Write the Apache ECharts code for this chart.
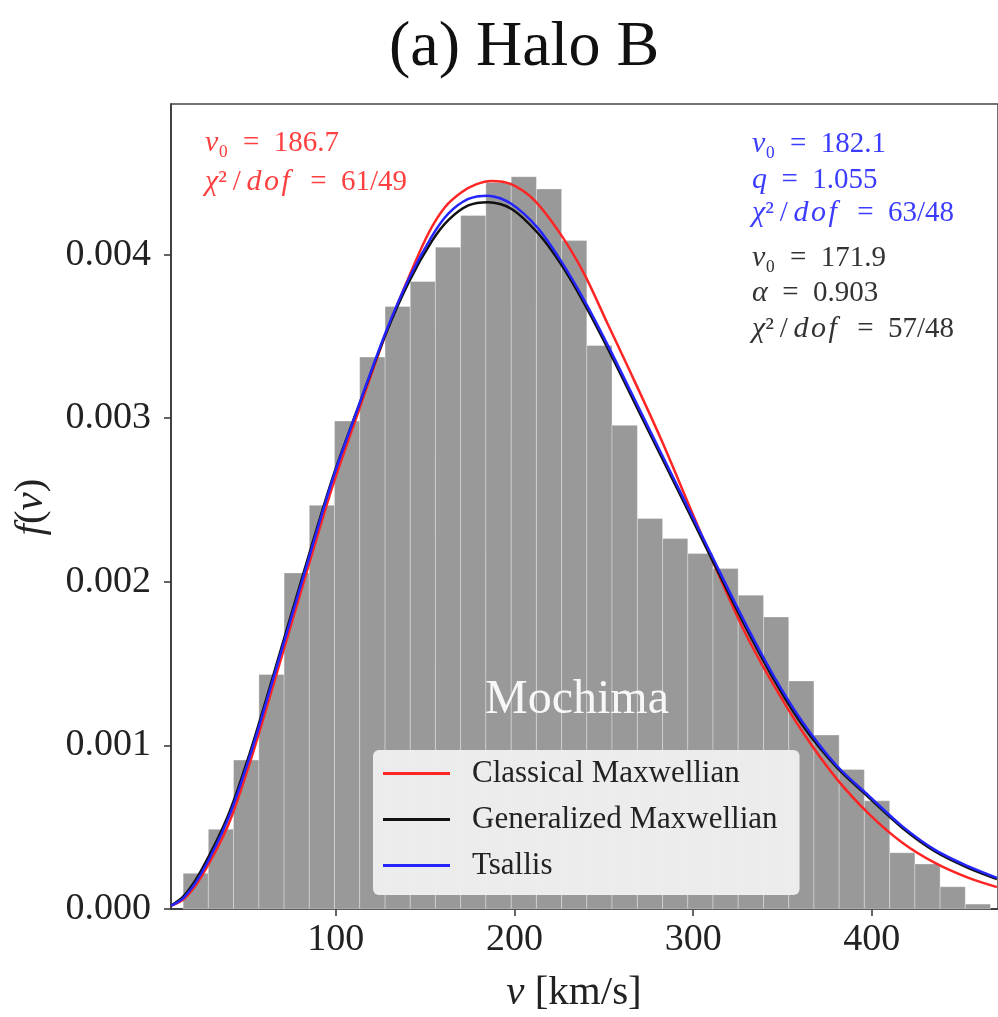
<!DOCTYPE html>
<html>
<head>
<meta charset="utf-8">
<script src="https://cdn.jsdelivr.net/npm/echarts@6/dist/echarts.min.js"></script>
<style>
  html, body { margin: 0; padding: 0; background: #fff; }
  #chart { width: 998px; height: 1017px; }
</style>
</head>
<body>
<div id="chart"></div>
<script>
// histogram bins (km/s) and heights f(v)
const binEdges = [14.6, 28.7, 42.8, 57.0, 71.1, 85.2, 99.3, 113.4, 127.6, 141.7, 155.8, 169.9,
  184.0, 198.2, 212.3, 226.4, 240.5, 254.6, 268.8, 282.9, 297.0, 311.1, 325.2, 339.4,
  353.5, 367.6, 381.7, 395.8, 410.0, 424.1, 438.2, 452.3, 466.4]
const binHeights = [0.000218, 0.000487, 0.000910, 0.001433, 0.002054, 0.002467, 0.002982,
  0.003373, 0.003682, 0.003835, 0.004045, 0.004238, 0.004440, 0.004476, 0.004401, 0.004085,
  0.003444, 0.002956, 0.002386, 0.002264, 0.002172, 0.002081, 0.001918, 0.001785, 0.001394,
  0.001063, 0.000853, 0.000661, 0.000344, 0.000275, 0.000136, 0.000030]

// fitted curves
const redV = [7.8, 15, 24.9, 39.7, 51.8, 64, 82.4, 98.1, 113, 127.8, 140.8, 151.9, 161.2, 170.4,
  178.8, 187.1, 198.2, 211.3, 226.1, 239.1, 252, 263.2, 281.7, 300.3, 313.2, 328.1, 342.9,
  361.4, 380, 398.5, 417.1, 435.6, 454.1, 470]
const redF = [0.00002, 0.00006, 0.00020, 0.00051, 0.00089, 0.00133, 0.00201, 0.00258, 0.00305,
  0.00351, 0.00386, 0.00413, 0.00429, 0.00438, 0.00443, 0.00445, 0.00443, 0.00433, 0.00412,
  0.00388, 0.00358, 0.00332, 0.00288, 0.00240, 0.00207, 0.00171, 0.00141, 0.00108,
  0.00080, 0.00058, 0.000405, 0.00028, 0.00019, 0.000134]

const fitV = [7.8, 15, 24.9, 39.7, 51.8, 64, 82.4, 98.1, 113, 127.8, 140.8, 153.7, 163, 174.2,
  185.3, 198.2, 213.2, 226.1, 239.1, 253.9, 272.4, 291, 309.5, 328.1, 344.8, 361.4, 380,
  398.5, 417.1, 435.6, 454.1, 470]
const tsallisF = [0.00002, 0.00007, 0.00022, 0.00055, 0.00093, 0.00137, 0.00205, 0.00262,
  0.00308, 0.00352, 0.00385, 0.00411, 0.00425, 0.00434, 0.00436, 0.00431, 0.00416,
  0.00396, 0.00372, 0.00341, 0.00300, 0.00259, 0.00218, 0.00177, 0.00143, 0.00114,
  0.00088, 0.00069, 0.000505, 0.00036, 0.00026, 0.00019]
const genF = [0.00002, 0.00008, 0.00024, 0.00057, 0.00095, 0.00139, 0.00207, 0.00263,
  0.00308, 0.00351, 0.00383, 0.00408, 0.00421, 0.00430, 0.00432, 0.00428, 0.00413,
  0.00394, 0.00370, 0.00339, 0.00298, 0.00257, 0.00216, 0.00175, 0.00141, 0.00112,
  0.00087, 0.00068, 0.000495, 0.00035, 0.00025, 0.000183]

const yTicks = [0, 0.001, 0.002, 0.003, 0.004]
const xTicks = [100, 200, 300, 400]

const serif = '"Liberation Serif", "DejaVu Serif", serif'

const chart = echarts.init(document.getElementById('chart'))

const pairs = (xs, ys) => xs.map((x, i) => [x, ys[i]])

const histData = binHeights.map((h, i) => [binEdges[i], binEdges[i + 1], h])

// annotation text helper
const mathRich = (color) => ({
  it: { fontStyle: 'italic', fontFamily: serif, fontSize: 30, fill: color },
  n: { fontFamily: serif, fontSize: 29, fill: color }
})

function note(x, y, text, color) {
  return {
    type: 'text', x: x, y: y,
    style: {
      text: text, fill: color, font: '29px ' + serif,
      verticalAlign: 'middle', rich: mathRich(color)
    }
  }
}

const EQ = '\u2002=\u2002'
const CHI = '{it|\u03c7}\u00b2\u2009/\u2009{it|d\u200ao\u200af}\u2009'

const red = '#ff2525', blue = '#2424ff', black = '#111'
const redTxt = '#ff4040', blueTxt = '#3c3cff', blackTxt = '#333'

chart.setOption({
  animation: false,
  grid: {
    left: 171, top: 104, bottom: 108, right: -5,
    show: true, borderColor: '#444', borderWidth: 1.5
  },
  xAxis: {
    type: 'value', min: 7.8, max: 470.6,
    splitLine: { show: false },
    axisLine: { onZero: false, lineStyle: { color: '#333', width: 1.5 } },
    axisTick: { customValues: xTicks, length: 7, lineStyle: { color: '#333', width: 1.5 } },
    axisLabel: {
      customValues: xTicks, margin: 12, color: '#222',
      fontFamily: serif, fontSize: 38
    }
  },
  yAxis: {
    type: 'value', min: 0, max: 0.00492,
    splitLine: { show: false },
    axisLine: { show: true, lineStyle: { color: '#333', width: 1.5 } },
    axisTick: { show: true, customValues: yTicks, length: 7, lineStyle: { color: '#333', width: 1.5 } },
    axisLabel: {
      customValues: yTicks, margin: 20, color: '#222',
      fontFamily: serif, fontSize: 38,
      formatter: (v) => v.toFixed(3)
    }
  },
  legend: {
    orient: 'vertical', left: 373, top: 750,
    padding: [8, 22, 14, 10],
    itemGap: 15, itemWidth: 67, itemHeight: 3,
    backgroundColor: 'rgba(240,240,240,0.95)', borderRadius: 6,
    textStyle: { fontFamily: serif, fontSize: 31, color: '#222', lineHeight: 30, padding: [0, 0, 0, 17] },
    data: [
      { name: 'Classical Maxwellian', icon: 'rect' },
      { name: 'Generalized Maxwellian', icon: 'rect' },
      { name: 'Tsallis', icon: 'rect' }
    ]
  },
  series: [
    {
      type: 'custom', name: 'hist', z: 1,
      renderItem: (params, api) => {
        const p0 = api.coord([api.value(0), api.value(2)])
        const p1 = api.coord([api.value(1), 0])
        return {
          type: 'rect',
          shape: { x: p0[0], y: p0[1], width: p1[0] - p0[0], height: p1[1] - p0[1] },
          style: { fill: '#999999', stroke: 'rgba(255,255,255,0.3)', lineWidth: 1 }
        }
      },
      data: histData
    },
    {
      type: 'line', name: 'Classical Maxwellian', z: 3,
      data: pairs(redV, redF), smooth: 0.3, showSymbol: false,
      color: red, lineStyle: { color: red, width: 2.5 }
    },
    {
      type: 'line', name: 'Generalized Maxwellian', z: 4,
      data: pairs(fitV, genF), smooth: 0.3, showSymbol: false,
      color: black, lineStyle: { color: black, width: 2.5 }
    },
    {
      type: 'line', name: 'Tsallis', z: 5,
      data: pairs(fitV, tsallisF), smooth: 0.3, showSymbol: false,
      color: blue, lineStyle: { color: blue, width: 2.5 }
    }
  ],
  graphic: [
    {
      type: 'text', x: 524, y: 48,
      style: { text: '(a) Halo B', font: '64px ' + serif, fill: '#111', align: 'center', verticalAlign: 'middle' }
    },
    {
      type: 'text', x: 577, y: 700, z: 10,
      style: { text: 'Mochima', font: '48px ' + serif, fill: '#f7f7f7', align: 'center', verticalAlign: 'middle' }
    },
    {
      type: 'text', x: 574, y: 993,
      style: {
        text: '{it|v} [km/s]', font: '41px ' + serif, fill: '#222', align: 'center', verticalAlign: 'middle',
        rich: { it: { fontStyle: 'italic', fontFamily: serif, fontSize: 41, fill: '#222' } }
      }
    },
    {
      type: 'text', x: 31, y: 507, rotation: Math.PI / 2,
      style: {
        text: '{it|f}({it|v})', font: '41px ' + serif, fill: '#222',
        align: 'center', verticalAlign: 'middle',
        rich: { it: { fontStyle: 'italic', fontFamily: serif, fontSize: 41, fill: '#222' } }
      }
    },
    note(205, 143, '{it|v}\u2080' + EQ + '186.7', redTxt),
    note(205, 182, CHI + EQ + '61/49', redTxt),
    note(752, 144, '{it|v}\u2080' + EQ + '182.1', blueTxt),
    note(752, 180, '{it|q}' + EQ + '1.055', blueTxt),
    note(752, 213, CHI + EQ + '63/48', blueTxt),
    note(752, 258, '{it|v}\u2080' + EQ + '171.9', blackTxt),
    note(752, 293, '{it|\u03b1}' + EQ + '0.903', blackTxt),
    note(752, 329, CHI + EQ + '57/48', blackTxt)
  ]
})
</script>
</body>
</html>
